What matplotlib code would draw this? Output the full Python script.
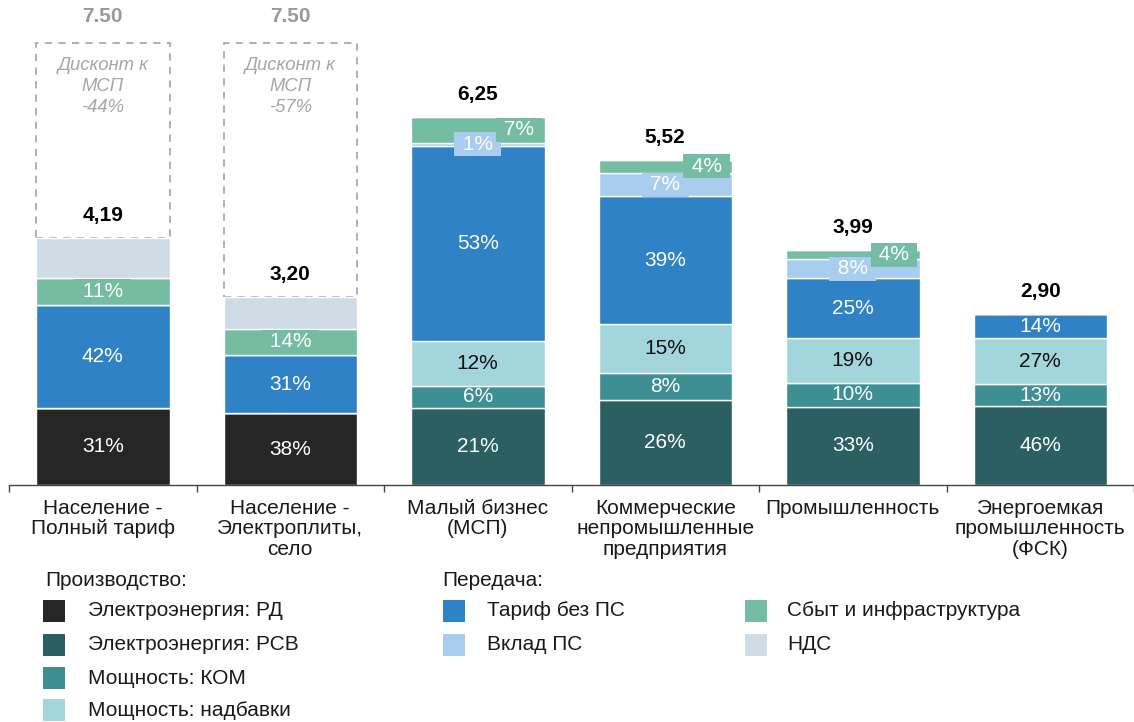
import matplotlib
matplotlib.use('Agg')
import matplotlib.pyplot as plt
from matplotlib.patches import Rectangle
import numpy as np

plt.rcParams['font.family'] = ['Liberation Sans', 'DejaVu Sans']

# --- data ---
categories = ['Население -\nПолный тариф',
              'Население -\nЭлектроплиты,\nсело',
              'Малый бизнес\n(МСП)',
              'Коммерческие\nнепромышленные\nпредприятия',
              'Промышленность',
              'Энергоемкая\nпромышленность\n(ФСК)']
totals = [4.19, 3.20, 6.25, 5.52, 3.99, 2.90]
total_labels = ['4,19', '3,20', '6,25', '5,52', '3,99', '2,90']

# shares of total, %
rd = [31, 38, 0, 0, 0, 0]
rsv = [0, 0, 21, 26, 33, 46]
kom = [0, 0, 6, 8, 10, 13]
nadb = [0, 0, 12, 15, 19, 27]
tarif = [42, 31, 53, 39, 25, 14]
vklad = [0, 0, 1, 7, 8, 0]
sbyt = [11, 14, 7, 4, 4, 0]
nds = [16, 17, 0, 0, 0, 0]

# reference level (МСП tariff) for households
msp_level = [7.50, 7.50]
msp_level_labels = ['7.50', '7.50']
discounts = ['-44%', '-57%']

series = ['Электроэнергия: РД', 'Электроэнергия: РСВ', 'Мощность: КОМ',
          'Мощность: надбавки', 'Тариф без ПС', 'Вклад ПС',
          'Сбыт и инфраструктура', 'НДС']
colors = ['#262626', '#2b5f62', '#3d8f94', '#a3d5dc',
          '#2e82c5', '#a9cdee', '#74bda2', '#cfdbe5']
label_colors = ['white', 'white', 'white', '#111111',
                'white', 'white', 'white', None]

FS = 15

# --- figure ---
W_PX, H_PX = 1134, 722
fig = plt.figure(figsize=(W_PX / 100, H_PX / 100), dpi=100)
ax = fig.add_axes([9 / W_PX, 237 / H_PX, 1125 / W_PX, 485 / H_PX])

x = np.arange(len(categories))
width = 0.712
shares = np.array([rd, rsv, kom, nadb, tarif, vklad, sbyt, nds], dtype=float)
heights = shares / shares.sum(axis=0) * np.array(totals)

bottom = np.zeros(len(x))
for k in range(len(series)):
    ax.bar(x, heights[k], width, bottom=bottom, color=colors[k],
           edgecolor='white', linewidth=1.0, zorder=2)
    for i in range(len(x)):
        if shares[k, i] == 0 or label_colors[k] is None:
            continue
        yc = bottom[i] + heights[k, i] / 2
        txt = '%d%%' % shares[k, i]
        if series[k] in ('Вклад ПС', 'Сбыт и инфраструктура'):
            xc = x[i]
            if series[k] == 'Сбыт и инфраструктура' and vklad[i] > 0:
                xc = x[i] + 0.22
            ax.text(xc, yc, ' ' + txt + ' ', ha='center', va='center',
                    fontsize=FS, color=label_colors[k], zorder=4,
                    bbox=dict(boxstyle='square,pad=0.12', fc=colors[k], ec='none'))
        else:
            ax.text(x[i], yc, txt, ha='center', va='center', fontsize=FS,
                    color=label_colors[k], zorder=3)
    bottom += heights[k]

# totals
for i in range(len(x)):
    ax.annotate(total_labels[i], (x[i], totals[i]), xytext=(0, 16),
                textcoords='offset points', ha='center', va='center',
                fontsize=FS, fontweight='bold', color='black')

# dashed boxes up to МСП level
for i in range(len(msp_level)):
    ax.add_patch(Rectangle((x[i] - width / 2, totals[i]), width,
                           msp_level[i] - totals[i], fill=False,
                           edgecolor='#aaaaaa', linestyle=(0, (4, 3.5)),
                           linewidth=1.3, zorder=1))
    ax.annotate(msp_level_labels[i], (x[i], msp_level[i]), xytext=(0, 19),
                textcoords='offset points', ha='center', va='center',
                fontsize=FS, fontweight='bold', color='#999999')
    ax.annotate('Дисконт к\nМСП\n' + discounts[i], (x[i], msp_level[i]),
                xytext=(0, -31), textcoords='offset points', ha='center',
                va='center', fontsize=13.3, style='italic', color='#a6a6a6',
                linespacing=1.32)

ax.set_xlim(-0.5, -0.5 + 1125 / 188.5)
ax.set_ylim(0, 485 / 58.9)
for s in ['top', 'right', 'left']:
    ax.spines[s].set_visible(False)
ax.spines['bottom'].set_color('#444444')
ax.spines['bottom'].set_linewidth(1.0)
ax.set_yticks([])
ax.set_xticks(x)
ax.set_xticklabels(categories, fontsize=FS, color='#1a1a1a', linespacing=1.1)
ax.tick_params(axis='x', which='major', length=0, pad=10)
ax.set_xticks(np.arange(-0.5, len(categories)), minor=True)
ax.tick_params(axis='x', which='minor', length=5, width=1, color='#444444')

# --- legend ---
def fx(px):
    return px / W_PX

def fy(py):
    return 1 - py / H_PX

fig.text(fx(45), fy(580), 'Производство:', fontsize=FS, va='center', color='#1a1a1a')
fig.text(fx(442), fy(580), 'Передача:', fontsize=FS, va='center', color='#1a1a1a')

legend_cols = [[0, 1, 2, 3], [4, 5], [6, 7]]
patch_x = [43, 443, 745]
text_x = [88, 487, 787]
row_y = [611, 645, 678, 710]
for c, idxs in enumerate(legend_cols):
    for r, k in enumerate(idxs):
        fig.add_artist(Rectangle((fx(patch_x[c]), fy(row_y[r] + 11)),
                                 22 / W_PX, 22 / H_PX, transform=fig.transFigure,
                                 facecolor=colors[k], edgecolor='none'))
        fig.text(fx(text_x[c]), fy(row_y[r]), series[k], fontsize=FS,
                 va='center', color='#1a1a1a')

fig.savefig('out.png', dpi=100)
